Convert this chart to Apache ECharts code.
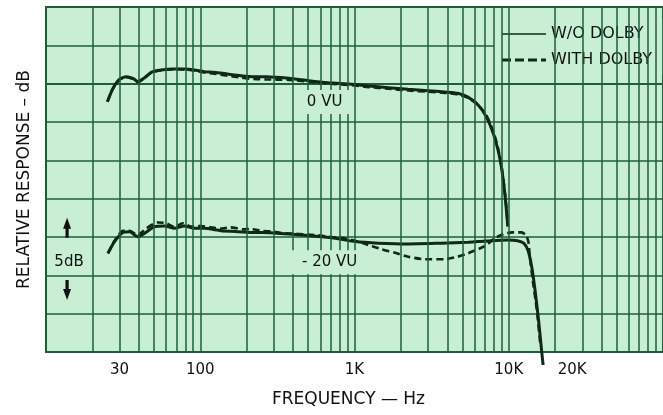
<!DOCTYPE html>
<html>
<head>
<meta charset="utf-8">
<script src="https://cdn.jsdelivr.net/npm/echarts@6/dist/echarts.min.js"></script>
<style>
html,body{margin:0;padding:0;background:#fff;}
#c{width:663px;height:415px;}
</style>
</head>
<body>
<div id="c"></div>
<script>
// ---- data (frequency Hz, relative response dB) ----
const vu0WithoutDolby = [[25,-2.35],[27.2,-0.6],[30,0.6],[33.1,0.9],[36.6,0.7],[39.4,0.26],[43.6,0.78],[48.1,1.48],[55.7,1.78],[68,1.9],[79,1.9],[91.5,1.78],[106,1.57],[123,1.48],[150,1.26],[183,1.04],[223,0.9],[267,0.9],[375,0.7],[505,0.39],[680,0.13],[960,-0.08],[1230,-0.3],[1660,-0.52],[2230,-0.74],[3000,-0.91],[3840,-1.09],[4660,-1.26],[5440,-1.75],[6330,-2.78],[7150,-4.3],[7930,-6.48],[8520,-8.65],[8950,-10.8],[9320,-13.4],[9610,-16],[9860,-18.65]];
const vu0WithDolby = [[25,-2.35],[27.2,-0.6],[30,0.55],[33.1,0.85],[36.6,0.6],[39.4,0.2],[43.6,0.75],[48.1,1.45],[55.7,1.75],[68,1.9],[79,1.85],[91.5,1.7],[106,1.45],[123,1.3],[150,1.05],[183,0.8],[223,0.6],[267,0.55],[375,0.5],[505,0.25],[680,0.0],[960,-0.2],[1230,-0.45],[1660,-0.65],[2230,-0.9],[3000,-1.05],[3840,-1.2],[4660,-1.4],[5440,-1.85],[6330,-2.75],[7150,-4.1],[7930,-6.2],[8520,-8.4],[8950,-10.6],[9320,-13.2],[9610,-15.8],[9860,-18.5]];
const vu20WithoutDolby = [[25.2,-22.13],[27.8,-20.6],[31.5,-19.4],[34.8,-19.3],[39.4,-19.96],[43.6,-19.5],[50.5,-18.65],[58.6,-18.56],[68,-18.87],[78.9,-18.56],[91.5,-18.87],[106,-18.87],[136,-19.17],[174,-19.3],[223,-19.4],[286,-19.43],[457,-19.74],[751,-20.17],[1012,-20.6],[1428,-20.8],[2230,-20.9],[3650,-20.8],[5440,-20.7],[6330,-20.6],[7710,-20.48],[9860,-20.4],[11400,-20.48],[12500,-20.8],[13300,-21.7],[14100,-23.9],[14800,-26.9],[15600,-30.8],[16400,-35.2],[16700,-36.7]];
const vu20WithDolby = [[25.2,-22.13],[27.8,-20.5],[31.5,-19.2],[34.8,-19.2],[39.4,-19.75],[44.5,-18.9],[53,-18.1],[60,-18.2],[68,-18.7],[77,-18.2],[87,-18.65],[101,-18.56],[117,-18.74],[135,-18.9],[157,-18.74],[190,-19.0],[210,-18.95],[250,-19.2],[300,-19.3],[340,-19.5],[435,-19.6],[557,-19.74],[680,-19.96],[870,-20.2],[1060,-20.6],[1232,-21.04],[1502,-21.6],[1832,-22.05],[2230,-22.57],[2860,-22.9],[3840,-22.9],[4660,-22.57],[5440,-22.13],[6980,-21.2],[8090,-20.2],[8950,-19.74],[10500,-19.4],[12100,-19.4],[12900,-19.74],[13400,-20.6],[13700,-22.57],[14300,-25.6],[15200,-29.5],[16000,-33.9]];

// log-paper vertical rulings
const gridFreqs = [20,30,40,50,60,70,80,90,100,200,300,400,500,600,700,800,900,1000,2000,3000,4000,5000,6000,7000,8000,9000,10000,20000,30000,40000,50000,60000,70000,80000,90000];
// tick labels
const tickValues = [30,100,1000,10000,20000];
const tickLabels = ['30','100','1K','10K','20K'];
// annotations [freq, dB, text]
const annotations = [[640,-2.4,'0 VU'],[690,-23.3,'- 20 VU'],[14.1,-23.3,'5dB']];
const arrowMarks = [[13.7,-18.8,0],[13.7,-26.9,180]];

const BG = '#c8efd3';
const RULE = '#1f5e39';
const INK = '#0f2818';
const FONT = 'DejaVu Sans';

const chart = echarts.init(document.getElementById('c'), null, {renderer:'canvas'});
chart.setOption({
  animation:false,
  backgroundColor:'#ffffff',
  textStyle:{fontFamily:FONT},
  grid:{left:46, top:7, width:620, height:345, show:true, backgroundColor:BG, borderColor:RULE, borderWidth:2, containLabel:false},
  legend:{
    orient:'vertical', left:494, top:19, padding:[7,10,7,8], itemGap:10,
    itemWidth:44, itemHeight:14, backgroundColor:BG, selectedMode:false,
    textStyle:{fontFamily:FONT, fontSize:16, color:'#111'},
    data:[
      {name:'W/O DOLBY', icon:'path://M0,6 L44,6 L44,7.6 L0,7.6 Z', itemStyle:{color:INK}},
      {name:'WITH DOLBY', icon:'path://M0,5 L9,5 L9,8.2 L0,8.2 Z M13,5 L22,5 L22,8.2 L13,8.2 Z M26,5 L35,5 L35,8.2 L26,8.2 Z M39,5 L44,5 L44,8.2 L39,8.2 Z', itemStyle:{color:INK}}
    ]
  },
  xAxis:{
    type:'log', logBase:10, min:10, max:100000,
    name:'FREQUENCY — Hz', nameLocation:'middle', nameGap:39,
    nameTextStyle:{fontFamily:FONT, fontSize:17, color:'#111', padding:[0,12,0,0]},
    axisLine:{show:true, lineStyle:{color:RULE, width:2}},
    axisTick:{show:false},
    splitLine:{show:false},
    minorTick:{show:false},
    axisLabel:{
      customValues:tickValues, margin:11, fontFamily:FONT, fontSize:15, color:'#111',
      formatter:function(v){
        const i = tickValues.indexOf(Math.round(v));
        const t = i >= 0 ? tickLabels[i] : '';
        return v >= 15000 ? '{s|' + t + '}' : t;
      },
      rich:{s:{fontFamily:FONT, fontSize:15, color:'#111', padding:[0,0,0,34]}}
    }
  },
  yAxis:{
    type:'value', min:-35, max:10, interval:5,
    name:'RELATIVE RESPONSE – dB', nameLocation:'middle', nameGap:13,
    nameTextStyle:{fontFamily:FONT, fontSize:17, color:'#111'},
    axisLine:{show:true, lineStyle:{color:RULE, width:2}},
    axisTick:{show:false},
    axisLabel:{show:false},
    splitLine:{show:true, lineStyle:{color:RULE, width:1.5}}
  },
  series:[
    {
      type:'line', data:[], z:1, silent:true,
      markLine:{
        silent:true, animation:false, symbol:['none','none'],
        label:{show:false}, emphasis:{disabled:true},
        lineStyle:{color:RULE, width:1.5, type:'solid'},
        data:gridFreqs.map(f => ({xAxis:f}))
      }
    },
    {
      type:'line', data:[], z:2, silent:true,
      markPoint:{
        silent:true, animation:false,
        data: annotations.map(a => ({
          coord:[a[0],a[1]], name:a[2], symbol:'rect',
          symbolSize: a[2]==='5dB' ? [2,2] : [a[2].length*9.5+14, 24],
          itemStyle:{color:BG},
          label:{show:true, position:'inside', formatter:a[2], fontFamily:FONT, fontSize:15, color:'#111'}
        })).concat(arrowMarks.map(a => ({
          coord:[a[0],a[1]], name:'', symbol:'path://M5,0 L10,12 L7,12 L7,22 L3,22 L3,12 L0,12 Z',
          symbolSize:[8,20], symbolRotate:a[2], itemStyle:{color:'#111'}, label:{show:false}
        })))
      }
    },
    {name:'W/O DOLBY', type:'line', data:vu0WithoutDolby, z:3, symbol:'none', smooth:0.2,
     lineStyle:{color:INK, width:3}},
    {name:'WITH DOLBY', type:'line', data:vu0WithDolby, z:3, symbol:'none', smooth:0.2,
     lineStyle:{color:INK, width:2.6, type:[7,4]}},
    {name:'W/O DOLBY', type:'line', data:vu20WithoutDolby, z:3, symbol:'none', smooth:0.2, clip:false,
     lineStyle:{color:INK, width:3}},
    {name:'WITH DOLBY', type:'line', data:vu20WithDolby, z:3, symbol:'none', smooth:0.2,
     lineStyle:{color:INK, width:2.6, type:[7,4]}}
  ]
});
</script>
</body>
</html>
